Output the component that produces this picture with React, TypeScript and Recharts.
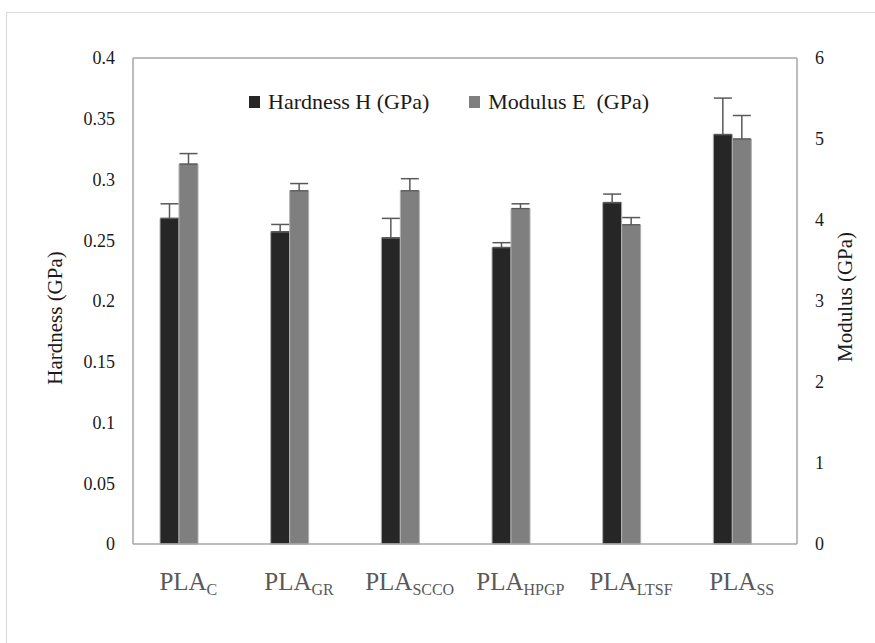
import React from 'react';
import {
  Bar,
  BarChart,
  ErrorBar,
  Legend,
  ReferenceLine,
  XAxis,
  YAxis,
} from 'recharts';

const samples = ['C', 'GR', 'SCCO', 'HPGP', 'LTSF', 'SS'];
const hardness = [0.268, 0.257, 0.252, 0.244, 0.281, 0.337];
const hardnessErr = [0.012, 0.006, 0.016, 0.004, 0.007, 0.03];
const modulus = [4.69, 4.36, 4.36, 4.14, 3.94, 5.0];
const modulusErr = [0.13, 0.09, 0.15, 0.06, 0.09, 0.29];
const hardnessTicks = [0, 0.05, 0.1, 0.15, 0.2, 0.25, 0.3, 0.35, 0.4];
const modulusTicks = [0, 1, 2, 3, 4, 5, 6];

const FONT = "'Liberation Serif', 'Times New Roman', serif";
const BORDER = '#a6a6a6';

const data = samples.map((s, i) => ({
  name: s,
  hardness: hardness[i],
  hErr: [0, hardnessErr[i]],
  modulus: modulus[i],
  mErr: [0, modulusErr[i]],
}));

function SampleTick({ x, y, payload }: any) {
  return (
    <text x={x} y={y + 44} textAnchor="middle" fill="#595959" fontFamily={FONT}>
      <tspan fontSize={25}>PLA</tspan>
      <tspan fontSize={16} dy={5}>
        {payload.value}
      </tspan>
    </text>
  );
}

function AxisTitle({ cx, cy, text }: { cx: number; cy: number; text: string }) {
  return (
    <text
      x={cx}
      y={cy}
      transform={`rotate(-90 ${cx} ${cy})`}
      textAnchor="middle"
      dominantBaseline="central"
      fontFamily={FONT}
      fontSize={21}
      fill="#1a1a1a"
    >
      {text}
    </text>
  );
}

function LegendContent() {
  const item = (color: string, label: string) => (
    <div style={{ display: 'flex', alignItems: 'center', marginRight: 40 }}>
      <span
        style={{ width: 11, height: 12, background: color, marginRight: 8, display: 'inline-block' }}
      />
      <span style={{ fontFamily: FONT, fontSize: 22, color: '#1a1a1a', whiteSpace: 'pre' }}>
        {label}
      </span>
    </div>
  );
  return (
    <div style={{ display: 'flex', fontFamily: FONT }}>
      {item('#262626', 'Hardness H (GPa)')}
      {item('#7f7f7f', 'Modulus E  (GPa)')}
    </div>
  );
}

export default function App() {
  return (
    <div
      style={{
        position: 'absolute',
        left: 0,
        top: 0,
        width: 875,
        height: 643,
        overflow: 'hidden',
        background: '#fff',
        fontFamily: FONT,
      }}
    >
      <div
        style={{
          position: 'absolute',
          left: 6,
          top: 12,
          width: 900,
          height: 700,
          border: '1px solid #d9d9d9',
        }}
      />
      <BarChart
        width={875}
        height={643}
        data={data}
        margin={{ top: 58, right: 0, bottom: 0, left: 0 }}
        barGap={0}
        barSize={19}
        style={{ position: 'absolute', left: 0, top: 0 }}
      >
        <XAxis
          dataKey="name"
          tick={<SampleTick />}
          tickLine={false}
          tickSize={0}
          axisLine={{ stroke: BORDER, strokeWidth: 1.5 }}
          height={99}
          interval={0}
        />
        <YAxis
          yAxisId="h"
          domain={[0, 0.4]}
          ticks={hardnessTicks}
          width={133}
          tickLine={false}
          tickSize={0}
          tickMargin={18}
          axisLine={{ stroke: BORDER, strokeWidth: 1.5 }}
          tick={{ fontFamily: FONT, fontSize: 18, fill: '#1a1a1a' }}
          label={{ content: () => <AxisTitle cx={55} cy={318} text="Hardness (GPa)" /> }}
        />
        <YAxis
          yAxisId="m"
          orientation="right"
          domain={[0, 6]}
          ticks={modulusTicks}
          width={78}
          tickLine={false}
          tickSize={0}
          tickMargin={18}
          axisLine={{ stroke: BORDER, strokeWidth: 1.5 }}
          tick={{ fontFamily: FONT, fontSize: 18, fill: '#1a1a1a' }}
          label={{ content: () => <AxisTitle cx={845} cy={297} text="Modulus (GPa)" /> }}
        />
        <ReferenceLine yAxisId="h" y={0.4} stroke={BORDER} strokeWidth={1.5} />
        <Legend
          layout="horizontal"
          verticalAlign="middle"
          align="center"
          content={<LegendContent />}
          wrapperStyle={{ position: 'absolute', left: 249, top: 89, width: 'auto' }}
        />
        <Bar
          yAxisId="h"
          dataKey="hardness"
          fill="#262626"
          stroke="#b0b0b0"
          strokeWidth={1}
          isAnimationActive={false}
        >
          <ErrorBar dataKey="hErr" width={9} stroke="#595959" strokeWidth={1.5} />
        </Bar>
        <Bar
          yAxisId="m"
          dataKey="modulus"
          fill="#7f7f7f"
          stroke="#b0b0b0"
          strokeWidth={1}
          isAnimationActive={false}
        >
          <ErrorBar dataKey="mErr" width={9} stroke="#595959" strokeWidth={1.5} />
        </Bar>
        <Bar yAxisId="m" dataKey="gap" legendType="none" isAnimationActive={false} />
      </BarChart>
    </div>
  );
}
